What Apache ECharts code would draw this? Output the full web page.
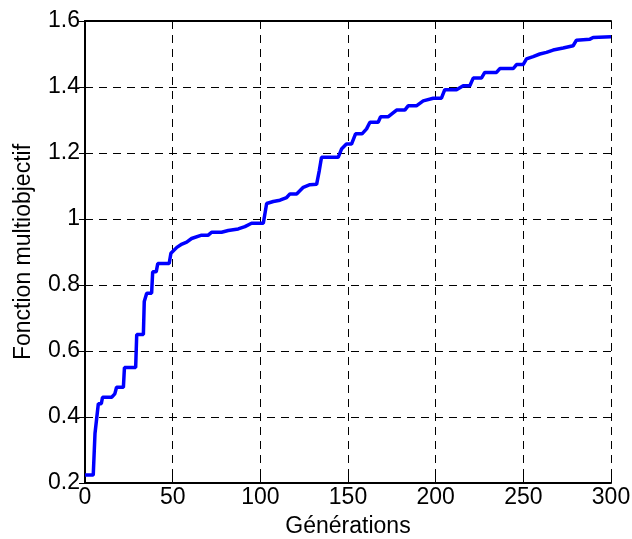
<!DOCTYPE html>
<html><head><meta charset="utf-8">
<script src="https://cdn.jsdelivr.net/npm/echarts@6/dist/echarts.min.js"></script>
<style>html,body{margin:0;padding:0;background:#fff}#c{width:632px;height:539px}</style>
</head><body><div id="c"></div>
<script>
var generations = [0,4.7,5.7,7.6,9.3,10,15.2,17,18,21.9,22.5,28.9,29.5,33.3,33.8,35.2,38,38.6,40.6,41.5,48,49,52.4,55.3,58,60.8,66.5,70.3,72.2,77.9,81.7,87.4,91.2,95,101.7,103.6,107.4,111.2,115,116.9,120.7,124.5,128.3,132.1,133.6,134.9,144.4,146.3,149.1,152,154.3,158,160.6,162.5,167.2,168.6,173,177.7,182.4,184.3,189,192.9,198.6,203.3,205.2,211.9,215.7,219.5,221.4,226.1,228,234.7,236.6,244.3,246.1,249.9,251.8,255.6,259.4,263.2,267,272.7,278.4,280.3,288,289.8,300];
var fitness = [0.224,0.224,0.35,0.44,0.44,0.46,0.46,0.47,0.49,0.49,0.55,0.55,0.65,0.65,0.75,0.775,0.775,0.84,0.84,0.865,0.865,0.896,0.914,0.924,0.93,0.941,0.951,0.951,0.96,0.96,0.965,0.97,0.977,0.987,0.987,1.047,1.053,1.057,1.065,1.076,1.076,1.096,1.104,1.105,1.146,1.187,1.187,1.212,1.227,1.227,1.258,1.258,1.273,1.293,1.293,1.31,1.31,1.33,1.33,1.343,1.343,1.358,1.366,1.366,1.392,1.392,1.404,1.404,1.427,1.427,1.444,1.444,1.456,1.456,1.468,1.468,1.485,1.492,1.5,1.505,1.512,1.518,1.525,1.542,1.545,1.55,1.552];
var xTicks = [0,50,100,150,200,250,300];
var yTicks = [0.2,0.4,0.6,0.8,1,1.2,1.4,1.6];
var xTitle = 'Générations';
var yTitle = 'Fonction multiobjectif';

var data = generations.map(function(g,i){return [g, fitness[i]];});
var font = 'Liberation Sans, Arial, sans-serif';
var chart = echarts.init(document.getElementById('c'), null, {renderer:'canvas'});
function xAx(pos, show){
  return {type:'value', position:pos, min:xTicks[0], max:xTicks[xTicks.length-1], interval:50,
    name: show?xTitle:'', nameLocation:'middle', nameGap:32, nameTextStyle:{fontFamily:font,fontSize:23,color:'#000'},
    axisLine:{show:true,lineStyle:{color:'#000',width:2}},
    axisTick:{show:true,inside:true,length:6,lineStyle:{color:'#000'}},
    axisLabel:{show:show,fontFamily:font,fontSize:23,color:'#000',margin:3},
    splitLine:{show:show,lineStyle:{type:[8,6],color:'#000',width:1}}};
}
function yAx(pos, show){
  return {type:'value', position:pos, min:yTicks[0], max:yTicks[yTicks.length-1], interval:0.2,
    name: show?yTitle:'', nameLocation:'middle', nameGap:50, nameTextStyle:{fontFamily:font,fontSize:23,color:'#000'},
    axisLine:{show:true,lineStyle:{color:'#000',width:2}},
    axisTick:{show:true,inside:true,length:6,lineStyle:{color:'#000'}},
    axisLabel:{show:show,fontFamily:font,fontSize:23,color:'#000',margin:5,
      formatter:function(v){return String(Math.round(v*10)/10);}},
    splitLine:{show:show,lineStyle:{type:[8,6],color:'#000',width:1}}};
}
chart.setOption({
  animation:false,
  backgroundColor:'#fff',
  grid:{left:85,right:21,top:21,bottom:56,containLabel:false,outerBoundsMode:'none'},
  xAxis:[xAx('bottom',true), xAx('top',false)],
  yAxis:[yAx('left',true), yAx('right',false)],
  series:[{type:'line', xAxisIndex:0, yAxisIndex:0, data:data, showSymbol:false, symbol:'none',
    lineStyle:{color:'#0000ff', width:3.5}, z:5}]
});
</script></body></html>
